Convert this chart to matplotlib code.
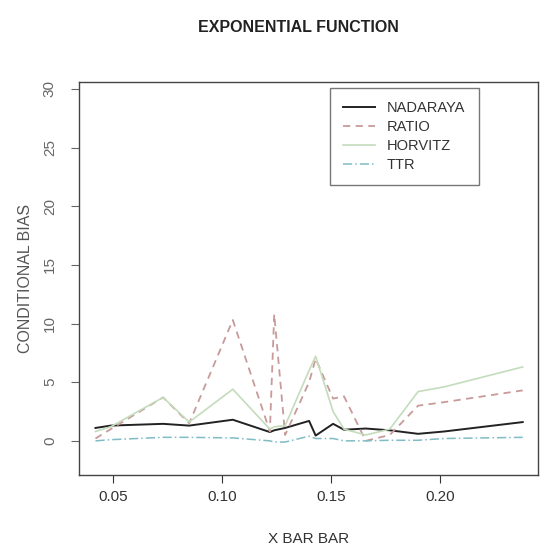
import matplotlib
matplotlib.use("Agg")
import matplotlib.pyplot as plt

# sample x values (sorted)
x_bar = [0.042, 0.049, 0.073, 0.085, 0.105, 0.122, 0.124, 0.129, 0.140, 0.143,
         0.151, 0.156, 0.166, 0.177, 0.190, 0.202, 0.238]

nadaraya = [1.1, 1.3, 1.45, 1.3, 1.8, 0.75, 0.9, 1.1, 1.7, 0.45,
            1.45, 0.95, 1.05, 0.9, 0.6, 0.8, 1.6]
ratio = [0.2, 1.0, 3.7, 1.5, 10.3, 0.8, 10.8, 0.5, 5.0, 7.0,
         3.6, 3.8, 0.0, 0.5, 3.0, 3.3, 4.3]
horvitz = [0.8, 1.2, 3.7, 1.6, 4.4, 1.0, 1.2, 1.3, 6.0, 7.2,
           2.5, 1.0, 0.5, 1.0, 4.2, 4.6, 6.3]
ttr = [0.0, 0.1, 0.3, 0.3, 0.25, 0.0, -0.1, -0.1, 0.4, 0.2,
       0.2, 0.0, 0.0, 0.05, 0.05, 0.2, 0.3]

labels = ['NADARAYA', 'RATIO', 'HORVITZ', 'TTR']

plt.rcParams['font.family'] = ['Liberation Sans', 'DejaVu Sans']

fig = plt.figure(figsize=(5.42, 5.49), dpi=100)
ax = fig.add_axes([0.146, 0.135, 0.847, 0.716])

ax.plot(x_bar, nadaraya, color='#222222', linestyle='-', linewidth=1.4, label=labels[0])
ax.plot(x_bar, ratio, color='#c89a9a', linestyle=(0, (4, 3)), linewidth=1.3, label=labels[1])
ax.plot(x_bar, horvitz, color='#c4dcbc', linestyle='-', linewidth=1.2, label=labels[2])
ax.plot(x_bar, ttr, color='#7fbcc4', linestyle=(0, (6, 2, 1, 2)), linewidth=1.1, label=labels[3])

ax.set_xlim(0.0345, 0.2451)
ax.set_ylim(-2.9, 30.6)
ax.set_xticks([0.05, 0.10, 0.15, 0.20])
ax.set_xticklabels(['0.05', '0.10', '0.15', '0.20'])
ax.set_yticks([0, 5, 10, 15, 20, 25, 30])
ax.set_yticklabels(['0', '5', '10', '15', '20', '25', '30'], rotation=90, va='center')
ax.tick_params(direction='out', length=6, width=0.8, colors='#333333', labelsize=11, pad=5)
ax.tick_params(axis='y', colors='#666666', labelcolor='#666666', pad=10)
for s in ax.spines.values():
    s.set_color('#444444')
    s.set_linewidth(1.0)

ax.set_xlabel('X BAR BAR', fontsize=11, color='#333333', labelpad=20)
ax.set_ylabel('CONDITIONAL BIAS', fontsize=11.5, color='#555555', labelpad=7)
fig.text(0.55, 0.949, 'EXPONENTIAL FUNCTION', ha='center', va='center',
         fontsize=11.5, fontweight='bold', color='#222222')

leg = ax.legend(loc='upper left', bbox_to_anchor=(0.547, 0.985), fontsize=10.5,
                frameon=True, fancybox=False, edgecolor='#555555',
                handlelength=2.2, labelspacing=0.35, borderpad=0.9,
                handletextpad=0.8, borderaxespad=0)
leg.get_frame().set_linewidth(1.0)
for t in leg.get_texts():
    t.set_color('#333333')

fig.savefig('out.png', dpi=100)
